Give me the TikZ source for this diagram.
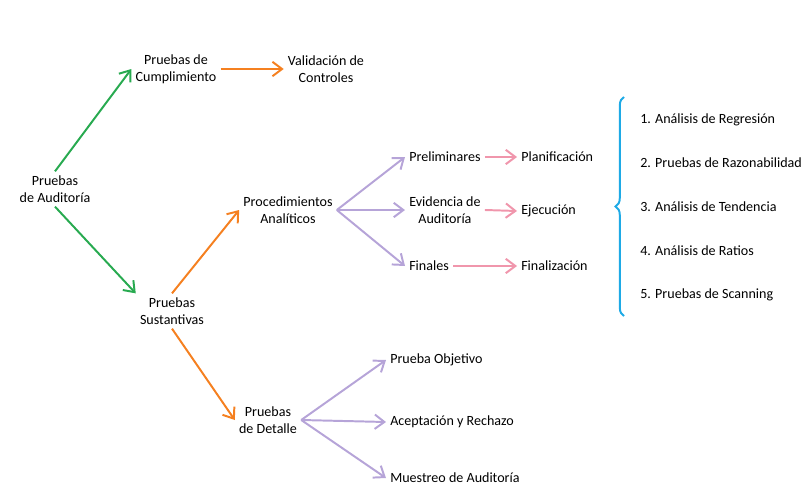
\documentclass[tikz,border=0pt]{standalone}
\usepackage{fontspec}
\setmainfont{Carlito}
\usetikzlibrary{arrows.meta}
\usetikzlibrary{decorations.pathreplacing}
\definecolor{mygreen}{RGB}{40,170,80}
\definecolor{myorange}{RGB}{245,128,32}
\definecolor{mypurple}{RGB}{182,164,216}
\definecolor{mypink}{RGB}{240,150,172}
\definecolor{myblue}{RGB}{30,170,230}
\tikzset{
>={Straight Barb[length=2.4mm,width=3.6mm]}, % All arrows open
my line/.style={line width=1.4pt},
my node/.style={align=center,inner sep=1mm},
my item/.style={anchor=west,inner sep=0mm},
green arr/.style={my line,->,draw=mygreen},
orange arr/.style={my line,->,draw=myorange},
purple arr/.style={my line,->,draw=mypurple},
pink arr/.style={my line,->,draw=mypink},
my brace/.style={my line,draw=myblue,decorate,decoration={brace,amplitude=6pt}}
}

\begin{document}
\begin{tikzpicture}[x=0.025cm,y=-0.025cm]
\useasboundingbox (0,0) rectangle (802,487);

% left part
\node[my node] (aud)   at (55,189)  {Pruebas\\de Auditoría};
\node[my node] (cump)  at (176,69)  {Pruebas de\\Cumplimiento};
\node[my node] (valid) at (326,69)  {Validación de\\Controles};
\node[my node] (sust)  at (172,311) {Pruebas\\Sustantivas};
\node[my node] (proc)  at (288,210) {Procedimientos\\Analíticos};
\node[my node] (det)   at (268,420) {Pruebas\\de Detalle};

% analytic procedures
\node[my node,anchor=west] (prel) at (405,157) {Preliminares};
\node[my node,anchor=west] (evid) at (405,210) {Evidencia de\\Auditoría};
\node[my node,anchor=west] (fin)  at (405,266) {Finales};
\node[my node,anchor=west] (plan) at (517,157) {Planificación};
\node[my node,anchor=west] (ejec) at (517,211) {Ejecución};
\node[my node,anchor=west] (finz) at (517,266) {Finalización};

% detail tests
\node[my node,anchor=west] (obj)  at (386,360) {Prueba Objetivo};
\node[my node,anchor=west] (acep) at (386,422) {Aceptación y Rechazo};
\node[my node,anchor=west] (mues) at (386,478) {Muestreo de Auditoría};

% list
\node[my item] (r1) at (640,120) {1. Análisis de Regresión};
\node[my item] (r2) at (640,163) {2. Pruebas de Razonabilidad};
\node[my item] (r3) at (640,207) {3. Análisis de Tendencia};
\node[my item] (r4) at (640,251) {4. Análisis de Ratios};
\node[my item] (r5) at (640,295) {5. Pruebas de Scanning};
\coordinate (btop) at (624,97);
\coordinate (bbot) at (624,316);
\draw[my brace] (bbot) -- (btop);

\draw[green arr] (aud.north) -- (cump.west);
\draw[green arr] (aud.south) -- (sust.north west);
\draw[orange arr] (cump.east) -- (valid.west);
\draw[orange arr] (sust.north) -- (proc.west);
\draw[orange arr] (sust.south) -- (det.west);
\draw[purple arr] (proc.east) -- (prel.west);
\draw[purple arr] (proc.east) -- (evid.west);
\draw[purple arr] (proc.east) -- (fin.west);
\draw[purple arr] (det.east) -- (obj.west);
\draw[purple arr] (det.east) -- (acep.west);
\draw[purple arr] (det.east) -- (mues.west);
\draw[pink arr] (prel.east) -- (plan.west);
\draw[pink arr] (evid.east) -- (ejec.west);
\draw[pink arr] (fin.east) -- (finz.west);
\end{tikzpicture}
\end{document}
